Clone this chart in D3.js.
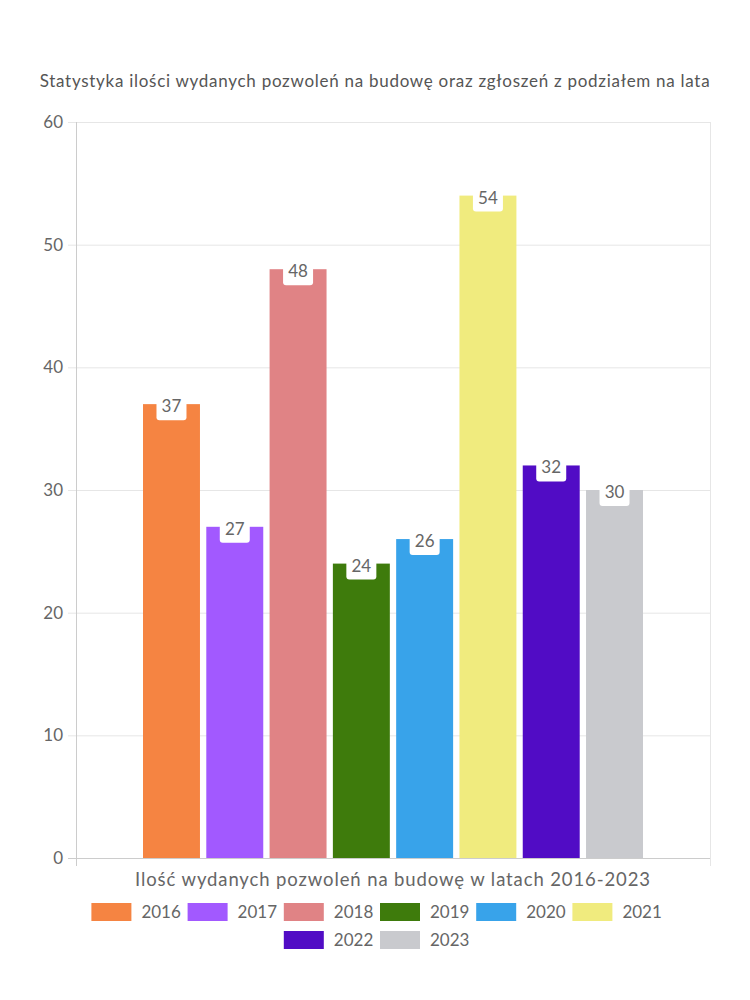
<!DOCTYPE html>
<html><head><meta charset="utf-8">
<script src="https://cdn.jsdelivr.net/npm/d3@7"></script>
<style>body{margin:0;background:#fff}svg{display:block}text{font-family:"Lato","Noto Sans",sans-serif}</style>
</head><body>
<script>
const years = ["2016","2017","2018","2019","2020","2021","2022","2023"];
const values = [37,27,48,24,26,54,32,30];
const colors = ["#F58442","#A259FF","#E08385","#3E7B0C","#38A3EA","#F0EB7E","#510CC5","#C9CACE"];
const yTicks = [0,10,20,30,40,50,60];
const category = ["Ilość wydanych pozwoleń na budowę w latach 2016-2023"];
const title = "Statystyka ilości wydanych pozwoleń na budowę oraz zgłoszeń z podziałem na lata";

const W=750,H=1000;
const svg=d3.select("body").append("svg").attr("width",W).attr("height",H);
const L=76,R=710,T=122,B=858;
const y=d3.scaleLinear().domain([0,60]).range([B,T]);
const x0=d3.scaleBand().domain(category).range([L,R]).paddingInner(0).paddingOuter(0.134);
const x1=d3.scaleBand().domain(years).range([x0(category[0]),x0(category[0])+x0.bandwidth()]).paddingInner(0.1).paddingOuter(0);

function fit(sel,target){
  const n=sel.text().length;
  const w=sel.node().getComputedTextLength();
  sel.attr("letter-spacing",((target-w)/(n-1)).toFixed(3));
}

// title
const tt=svg.append("text").attr("x",375).attr("y",87).attr("text-anchor","middle")
  .attr("font-size",17).attr("fill","#555").text(title);
fit(tt,670);

// grid
svg.append("g").selectAll("line").data(yTicks).join("line")
  .attr("x1",68).attr("x2",R).attr("y1",d=>y(d)+0.5).attr("y2",d=>y(d)+0.5)
  .attr("stroke",d=>d===0?"#ccc":"#e6e6e6");
// y axis line + right border
svg.append("line").attr("x1",L+0.5).attr("x2",L+0.5).attr("y1",T).attr("y2",B+8).attr("stroke","#ccc");
svg.append("line").attr("x1",R+0.5).attr("x2",R+0.5).attr("y1",T).attr("y2",B+8).attr("stroke","#e6e6e6");
// y tick labels
svg.append("g").selectAll("text").data(yTicks).join("text")
  .attr("x",63).attr("y",d=>y(d)+6).attr("text-anchor","end")
  .attr("font-size",17).attr("fill","#666").text(d=>d);

// bars
const g=svg.append("g");
g.selectAll("rect").data(values).join("rect")
  .attr("x",(d,i)=>x1(years[i])).attr("width",x1.bandwidth())
  .attr("y",d=>y(d)).attr("height",d=>B-y(d))
  .attr("fill",(d,i)=>colors[i]);

// labels
const lab=svg.append("g").selectAll("g").data(values).join("g")
  .attr("transform",(d,i)=>`translate(${x1(years[i])+x1.bandwidth()/2},${y(d)})`);
lab.append("rect").attr("x",-15).attr("y",-8).attr("width",30).attr("height",24).attr("rx",3).attr("fill","#fff");
lab.append("text").attr("y",8).attr("text-anchor","middle").attr("font-size",17).attr("fill","#666").text(d=>d);

// x axis title
const xt=svg.append("text").attr("x",393).attr("y",886).attr("text-anchor","middle")
  .attr("font-size",18.5).attr("fill","#666").text(category[0]);
fit(xt,515);

// legend
const rows=[years.slice(0,6),years.slice(6)];
const pitch=96.2;
rows.forEach((row,ri)=>{
  const total=row.length*pitch-10;
  const sx=375-total/2;
  const lg=svg.append("g").attr("transform",`translate(${sx},${903+ri*28})`);
  const it=lg.selectAll("g").data(row).join("g").attr("transform",(d,i)=>`translate(${i*pitch},0)`);
  it.append("rect").attr("width",40).attr("height",18).attr("fill",d=>colors[years.indexOf(d)]);
  it.append("text").attr("x",50).attr("y",15).attr("font-size",17).attr("fill","#666").text(d=>d);
});
</script>
</body></html>
